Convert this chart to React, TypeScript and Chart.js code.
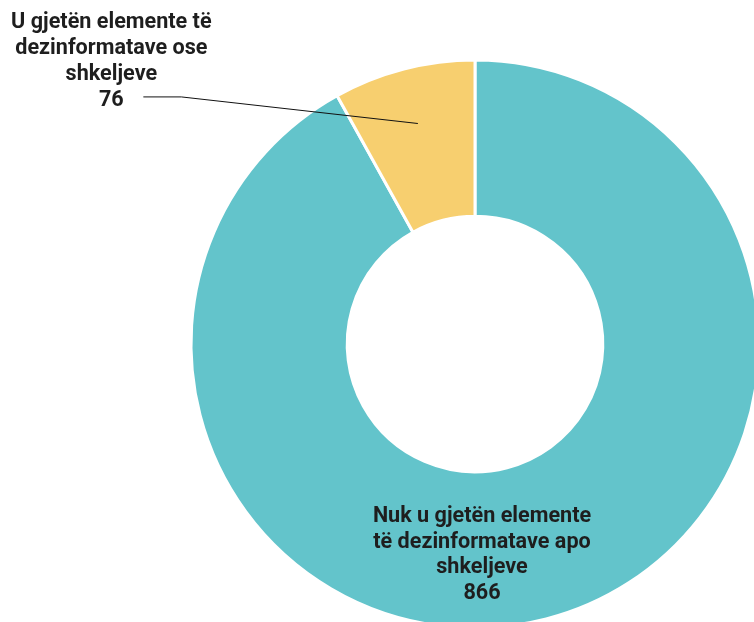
import React, { useEffect, useRef } from "react";
import { Chart, registerables } from "chart.js";

Chart.register(...registerables);

const categories = [
  ["Nuk u gjetën elemente", "të dezinformatave apo", "shkeljeve"],
  ["U gjetën elemente të", "dezinformatave ose", "shkeljeve"],
];
const values = [866, 76];
const colors = ["#63C4CB", "#F7CF6F"];

const FONT = "bold 21.6px 'Roboto', 'Liberation Sans', sans-serif";
const TEXT_COLOR = "#1e1e1e";

const labelPlugin = {
  id: "sliceLabels",
  afterDraw(chart: any) {
    const ctx = chart.ctx;
    const meta = chart.getDatasetMeta(0);
    const arcs = meta.data;
    if (!arcs.length) return;
    const a0 = arcs[0];
    const cx = a0.x;
    const cy = a0.y;
    const R = a0.outerRadius;
    ctx.save();
    ctx.font = FONT;
    ctx.fillStyle = TEXT_COLOR;
    ctx.textAlign = "center";
    ctx.textBaseline = "alphabetic";

    // inner label for large slice
    const lh0 = 25.5;
    const lines0 = [...categories[0], String(values[0])];
    const x0 = cx + 7;
    const y0 = cy + R * 0.628;
    lines0.forEach((t, i) => ctx.fillText(t, x0, y0 + i * lh0));

    // outside label for small slice with leader line
    const a1 = arcs[1];
    const mid = (a1.startAngle + a1.endAngle) / 2;
    const rr = a1.innerRadius + (a1.outerRadius - a1.innerRadius) * 0.64;
    const px = cx + Math.cos(mid) * rr;
    const py = cy + Math.sin(mid) * rr;
    const elbowX = cx - R * 1.034;
    const elbowY = cy - R * 0.87;
    const endX = elbowX - 38;
    ctx.strokeStyle = "#111";
    ctx.lineWidth = 1;
    ctx.beginPath();
    ctx.moveTo(px, py);
    ctx.lineTo(elbowX, elbowY);
    ctx.lineTo(endX, elbowY);
    ctx.stroke();

    const lh1 = 26.3;
    const lines1 = [...categories[1], String(values[1])];
    const x1 = endX - 32;
    const yb = elbowY + 9.5;
    lines1.forEach((t, i) => ctx.fillText(t, x1, yb - (lines1.length - 1 - i) * lh1));
    ctx.restore();
  },
};

export default function App() {
  const ref = useRef<HTMLCanvasElement>(null);
  useEffect(() => {
    if (!ref.current) return;
    const chart = new Chart(ref.current, {
      type: "doughnut",
      data: {
        labels: categories.map((c) => c.join(" ")),
        datasets: [
          {
            data: values,
            backgroundColor: colors,
            borderColor: "#ffffff",
            borderWidth: 3,
          },
        ],
      },
      options: {
        responsive: false,
        animation: false,
        cutout: "45%",
        layout: { padding: { left: 189.5, right: 189.5, top: 58.5, bottom: 70.5 } },
        plugins: {
          legend: { display: false },
          tooltip: { enabled: false },
        },
      },
      plugins: [labelPlugin],
    });
    return () => chart.destroy();
  }, []);
  return (
    <div
      style={{
        position: "fixed",
        left: 0,
        top: 0,
        width: 754,
        height: 622,
        overflow: "hidden",
        background: "#fff",
      }}
    >
      <canvas ref={ref} width={950} height={700} style={{ display: "block" }} />
    </div>
  );
}
